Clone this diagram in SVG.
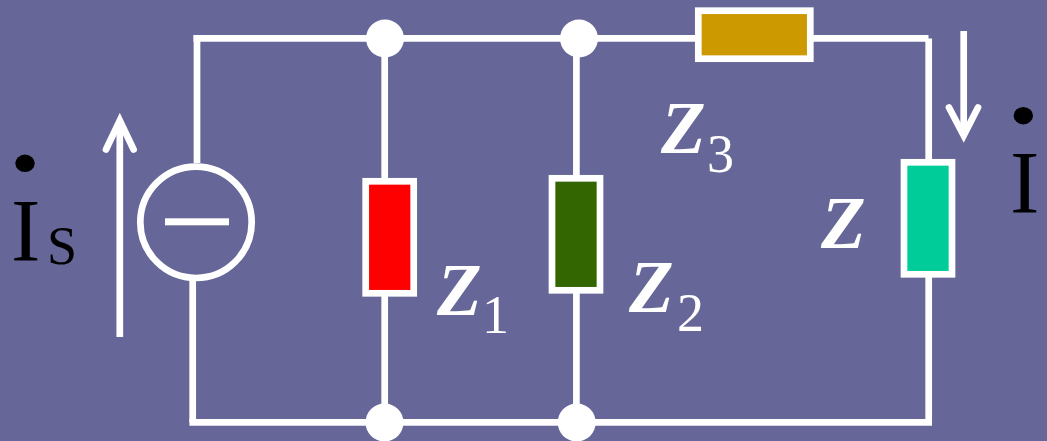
<svg xmlns="http://www.w3.org/2000/svg" width="1047" height="441" viewBox="0 0 1047 441">
<style>
.w{fill:none;stroke:#fff;stroke-width:6.7}
.r{stroke:#fff;stroke-width:6.7}
.d{fill:#fff}
.z{font-family:"Liberation Serif",serif;font-weight:bold;font-style:italic;font-size:73px;fill:#fff}
.s{font-family:"Liberation Serif",serif;font-size:54px;fill:#fff}
.i{font-family:"Liberation Serif",serif;font-size:88px;fill:#000}
.a{fill:none;stroke:#fff;stroke-width:6.7;stroke-linecap:round;stroke-miterlimit:10}
</style>
<rect width="1047" height="441" fill="#666699"/>
<g id="connectors">
<path class="w" d="M193.5 38.4H928.5"/>
<path class="w" d="M197 35V163"/>
<path class="w" d="M192.7 281V422"/>
<path class="w" d="M189.4 422.3H932"/>
<path class="w" d="M928.7 38.5V422"/>
<path class="w" d="M384.7 38V422"/>
<path class="w" d="M576.4 38V422"/>
</g>
<g id="source"><circle cx="196" cy="222.3" r="55.7" fill="#666699" stroke="#fff" stroke-width="6.7"/><rect class="d" x="165" y="218.3" width="64" height="7"/></g>
<g id="node-top-1"><circle class="d" cx="385" cy="38.5" r="19"/></g>
<g id="node-top-2"><circle class="d" cx="579" cy="38.5" r="19"/></g>
<g id="node-bottom-1"><circle class="d" cx="384.5" cy="422.5" r="19"/></g>
<g id="node-bottom-2"><circle class="d" cx="576.7" cy="422.5" r="19"/></g>
<g id="z1"><rect class="r" x="365.7" y="181.3" width="48" height="112" fill="#f00"/></g>
<g id="z2"><rect class="r" x="552" y="178.3" width="48" height="112" fill="#360"/></g>
<g id="z3"><rect class="r" x="698.3" y="10.7" width="112" height="48" fill="#c90"/></g>
<g id="z"><rect class="r" x="904" y="162.3" width="48" height="112" fill="#0c9"/></g>
<g id="arrow-is"><path class="w" d="M119.8 337V125"/><path class="a" d="M106 149.500L119.800 120.500L133.600 149.500" transform="translate(0 0)"/></g>
<g id="arrow-i"><path class="w" d="M963.700 31V130"/><path class="a" d="M949 107.500L963.700 135.500L978 107.500"/></g>
<g id="labels">
<text class="z" x="661" y="153">Z</text><text class="s" x="707" y="171.500">3</text>
<text class="z" x="821" y="248">Z</text>
<text class="z" x="437" y="315">Z</text><text class="s" x="482" y="333">1</text>
<text class="z" x="629" y="312">Z</text><text class="s" x="677" y="331">2</text>
<text class="i" x="11" y="260">I</text><text class="s" x="47" y="264" fill="#000" style="fill:#000">S</text>
<text class="i" x="1010" y="212">I</text>
<ellipse cx="25" cy="163.300" rx="9.700" ry="8.700" fill="#000"/>
<ellipse cx="1023.300" cy="115.700" rx="9.700" ry="8.700" fill="#000"/>
</g>
</svg>
